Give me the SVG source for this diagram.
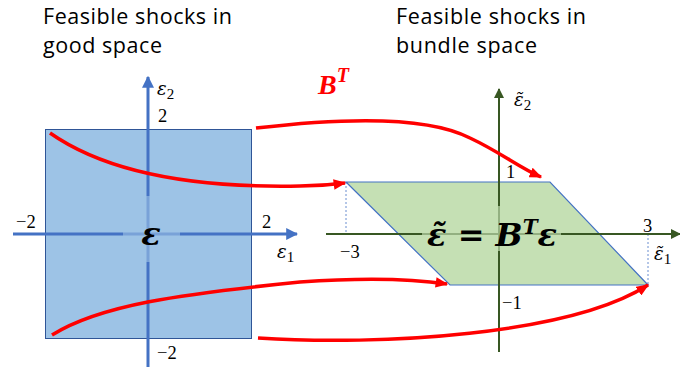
<svg xmlns="http://www.w3.org/2000/svg" width="680" height="372" viewBox="0 0 680 372">
<style>
.hdr{font-family:"Open Sans","Liberation Sans",sans-serif;font-size:21.5px;fill:#000}
.num{font-family:"Liberation Serif","DejaVu Serif",serif;font-size:18.5px;fill:#000}
.var{font-family:"DejaVu Serif","Liberation Serif",serif;font-style:italic;font-size:18px;fill:#000}
.sub{font-family:"Liberation Serif","DejaVu Serif",serif;font-style:normal;font-size:15px;fill:#000}
.big{font-family:"DejaVu Serif","Liberation Serif",serif;font-weight:bold;font-style:italic;font-size:32px;fill:#000}
.bt{font-family:"Liberation Serif","DejaVu Serif",serif;font-weight:bold;font-style:italic;fill:#FF0000}
.baxis{stroke:#4472C4;stroke-width:3;fill:none}
.gaxis{stroke:#385723;stroke-width:2;fill:none}
.map{stroke:#FF0000;stroke-width:3.5;fill:none}
.dash{stroke:#4472C4;stroke-width:0.8;stroke-dasharray:2,2;fill:none}
</style>
<defs>
<marker id="ab" viewBox="0 0 10 10" refX="9" refY="5" markerWidth="4" markerHeight="4" orient="auto" markerUnits="strokeWidth"><path d="M0,0 L10,5 L0,10 z" fill="#4472C4"/></marker>
<marker id="ag" viewBox="0 0 10 10" refX="9" refY="5" markerWidth="5" markerHeight="5" orient="auto" markerUnits="strokeWidth"><path d="M0,0 L10,5 L0,10 z" fill="#385723"/></marker>
<marker id="ar" viewBox="0 0 10 10" refX="9" refY="5" markerWidth="3.6" markerHeight="3" orient="auto" markerUnits="strokeWidth" preserveAspectRatio="none"><path d="M0,0 L10,5 L0,10 z" fill="#FF0000"/></marker>
</defs>

<g id="titles">
<text class="hdr" x="43" y="24" textLength="189">Feasible shocks in</text>
<text class="hdr" x="43" y="53" textLength="119">good space</text>
<text class="hdr" x="396" y="24" textLength="190">Feasible shocks in</text>
<text class="hdr" x="396" y="53" textLength="141">bundle space</text>
</g>

<g id="good-space">
<rect x="45.5" y="129.5" width="206" height="209" fill="#9DC3E6" stroke="#2F5597" stroke-width="1"/>
<line class="baxis" x1="13" y1="234" x2="297" y2="234" marker-end="url(#ab)"/>
<line class="baxis" x1="148" y1="367" x2="148" y2="77" marker-end="url(#ab)"/>
<rect x="123" y="196" width="57" height="66" fill="#9DC3E6" opacity="0.6"/>
<text class="var" x="157" y="95">ε<tspan class="sub" dy="4">2</tspan></text>
<text class="num" x="158" y="122">2</text>
<text class="num" x="16" y="228">−2</text>
<text class="num" x="262" y="228">2</text>
<text class="var" x="277" y="258">ε<tspan class="sub" dy="4">1</tspan></text>
<text class="num" x="157" y="359">−2</text>
<text class="big" x="151" y="245" text-anchor="middle">ε</text>
</g>

<g id="bundle-space">
<polygon points="346,182 550,182 648,285 450,285" fill="#C5E0B4" stroke="#4472C4" stroke-width="1.2"/>
<line class="dash" x1="346" y1="182" x2="346" y2="234"/>
<line class="dash" x1="648" y1="234" x2="648" y2="285"/>
<line class="gaxis" x1="326" y1="234" x2="680" y2="234" marker-end="url(#ag)"/>
<line class="gaxis" x1="499" y1="352" x2="499" y2="89" marker-end="url(#ag)"/>
<rect x="422" y="206" width="139" height="45" fill="#C5E0B4" opacity="0.65"/>
<text class="var" x="514" y="106">ε̃<tspan class="sub" dy="4">2</tspan></text>
<text class="num" x="506" y="178">1</text>
<text class="num" x="340" y="258">−3</text>
<text class="num" x="643" y="232">3</text>
<text class="var" x="654" y="260">ε̃<tspan class="sub" dy="4">1</tspan></text>
<text class="num" x="502" y="309">−1</text>
<text class="big" x="492" y="246" text-anchor="middle">ε̃ = B<tspan font-size="20" dy="-12">T</tspan><tspan dy="12">ε</tspan></text>
</g>

<g id="connectors">
<path class="map" d="M256,128 C350,117 430,117 470,138 C500,152 520,168 541,177" marker-end="url(#ar)"/>
<path class="map" d="M50,133 C110,175 200,188 300,186 C320,186 330,185 345,183" marker-end="url(#ar)"/>
<path class="map" d="M52,335 C100,305 180,294 300,282 C370,277 420,280 447,284" marker-end="url(#ar)"/>
<path class="map" d="M258,338 C380,346 570,335 648,285" marker-end="url(#ar)"/>
<text class="bt" x="318" y="94" font-size="28">B<tspan font-size="20" dy="-12">T</tspan></text>
</g>
</svg>
